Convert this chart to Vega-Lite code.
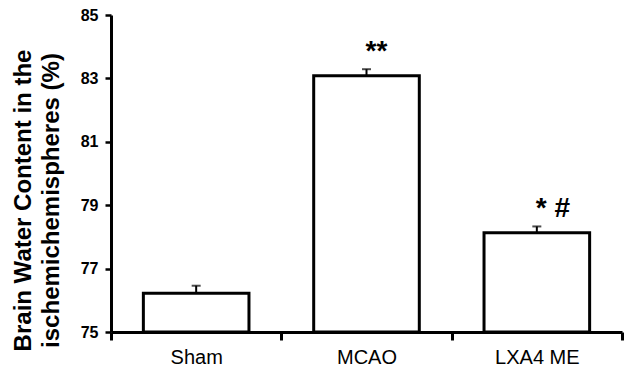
{
  "$schema": "https://vega.github.io/schema/vega-lite/v6.json",
  "width": 511,
  "height": 317,
  "autosize": "none",
  "padding": {"left": 111, "top": 15, "right": 21, "bottom": 38},
  "background": "white",
  "config": {"view": {"stroke": null}, "font": "Liberation Sans"},
  "data": {
    "values": [
      {"group": "Sham", "mean": 76.22, "upper": 76.46, "base": 75, "sig": ""},
      {"group": "MCAO", "mean": 83.08, "upper": 83.29, "base": 75, "sig": "**"},
      {"group": "LXA4 ME", "mean": 78.13, "upper": 78.33, "base": 75, "sig": "* #"}
    ]
  },
  "encoding": {
    "x": {
      "field": "group",
      "type": "nominal",
      "sort": null,
      "scale": {"paddingInner": 0, "paddingOuter": 0},
      "axis": {
        "title": null,
        "labelAngle": 0,
        "labelFontSize": 20,
        "labelColor": "black",
        "labelOverlap": false,
        "labelBound": false,
        "domainColor": "black",
        "domainWidth": 3,
        "tickColor": "black",
        "tickWidth": 3,
        "tickSize": 8,
        "tickBand": "extent",
        "labelPadding": 7
      }
    }
  },
  "layer": [
    {
      "mark": {"type": "bar", "fill": "white", "stroke": "black", "strokeWidth": 3, "width": {"band": 0.62}},
      "encoding": {
        "y": {
          "field": "mean",
          "type": "quantitative",
          "scale": {"domain": [75, 85], "zero": false, "nice": false},
          "axis": {
            "values": [75, 77, 79, 81, 83, 85],
            "title": ["Brain Water Content  in the", "ischemichemispheres (%)"],
            "titleFontSize": 24,
            "titleFontWeight": "bold",
            "titleColor": "black",
            "titleLineHeight": 28,
            "titleAngle": 270,
            "titleX": -100,
            "titleY": 185,
            "titleAlign": "center",
            "titleBaseline": "top",
            "labelFontSize": 16,
            "labelFontWeight": "bold",
            "labelColor": "black",
            "domainColor": "black",
            "domainWidth": 3,
            "tickColor": "black",
            "tickWidth": 2.5,
            "tickSize": 6,
            "labelPadding": 7,
            "grid": false
          }
        },
        "y2": {"field": "base"}
      }
    },
    {
      "mark": {"type": "rule", "color": "black", "strokeWidth": 2},
      "encoding": {
        "y": {"field": "mean", "type": "quantitative"},
        "y2": {"field": "upper"}
      }
    },
    {
      "mark": {"type": "tick", "color": "black", "size": 9, "thickness": 2},
      "encoding": {
        "y": {"field": "upper", "type": "quantitative"}
      }
    },
    {
      "mark": {"type": "text", "align": "left", "baseline": "alphabetic", "dy": -9, "dx": -1, "fontSize": 28, "fontWeight": "bold", "color": "black"},
      "encoding": {
        "y": {"field": "upper", "type": "quantitative"},
        "text": {"field": "sig"}
      }
    }
  ]
}
